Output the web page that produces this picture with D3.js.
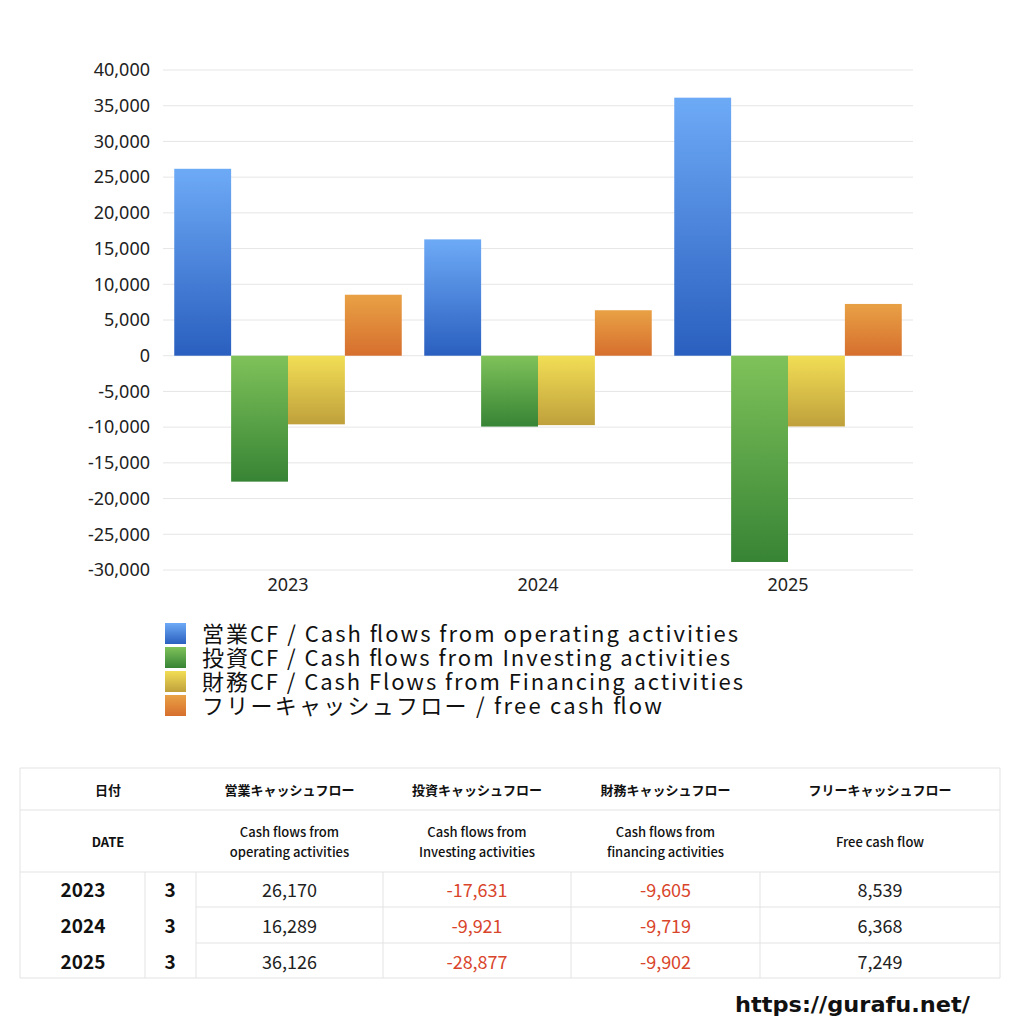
<!DOCTYPE html><html><head><meta charset="utf-8"><script src="https://cdn.jsdelivr.net/npm/d3@7"></script>
<style>body{margin:0;background:#fff;font-family:"Noto Sans CJK JP","Noto Sans",sans-serif}</style></head><body>
<svg id="c" width="1024" height="1024"></svg>
<script>
const years=["2023","2024","2025"];
const months=["3","3","3"];
const operating=[26170,16289,36126];
const investing=[-17631,-9921,-28877];
const financing=[-9605,-9719,-9902];
const free=[8539,6368,7249];
const yTicks=[40000,35000,30000,25000,20000,15000,10000,5000,0,-5000,-10000,-15000,-20000,-25000,-30000];
const legendLabels=["営業CF / Cash flows from operating activities","投資CF / Cash flows from Investing activities","財務CF / Cash Flows from Financing activities","フリーキャッシュフロー / free cash flow"];
const legendWidths=[536,528,541,460];
const headJa=["営業キャッシュフロー","投資キャッシュフロー","財務キャッシュフロー","フリーキャッシュフロー"];
const headEn=[["Cash flows from","operating activities"],["Cash flows from","Investing activities"],["Cash flows from","financing activities"],["Free cash flow"]];
const series=[operating,investing,financing,free];
const grads=[["#6daaf6","#2a5fbf"],["#7fc25a","#378435"],["#f2de55","#bfa03c"],["#e9a145","#d66f2e"]];
const fmt=v=>d3.format(",")(v).replace("−","-");
const svg=d3.select("#c");
const defs=svg.append("defs");
grads.forEach((g,i)=>{const lg=defs.append("linearGradient").attr("id","g"+i).attr("x1",0).attr("y1",0).attr("x2",0).attr("y2",1);
lg.append("stop").attr("offset",0).attr("stop-color",g[0]);lg.append("stop").attr("offset",1).attr("stop-color",g[1]);});
const L=163,R=913;
const y=d3.scaleLinear().domain([-30000,40000]).range([570,70]);
const x0=d3.scaleBand().domain(years).range([L,R]).paddingInner(0.09).paddingOuter(0.045);
const x1=d3.scaleBand().domain([0,1,2,3]).range([0,x0.bandwidth()]);
svg.append("g").selectAll("line").data(yTicks).join("line").attr("x1",L).attr("x2",R).attr("y1",d=>y(d)).attr("y2",d=>y(d)).attr("stroke","#e6e6e6");
const ya=svg.append("g").attr("transform",`translate(${L},0)`).call(d3.axisLeft(y).tickValues(yTicks).tickSize(0).tickPadding(13).tickFormat(fmt));
ya.select(".domain").remove();ya.selectAll("text").attr("font-size",18).attr("fill","#222").attr("font-family","Noto Sans, sans-serif");
const xa=svg.append("g").attr("transform","translate(0,570)").call(d3.axisBottom(x0).tickSize(0).tickPadding(8));
xa.select(".domain").remove();xa.selectAll("text").attr("font-size",18).attr("fill","#222").attr("font-family","Noto Sans, sans-serif");
series.forEach((s,i)=>{svg.append("g").selectAll("rect").data(s).join("rect").attr("x",(d,j)=>x0(years[j])+x1(i)).attr("width",x1.bandwidth())
.attr("y",d=>y(Math.max(0,d))).attr("height",d=>Math.abs(y(d)-y(0))).attr("fill",`url(#g${i})`);});
const lg=svg.append("g");
legendLabels.forEach((t,i)=>{const yy=634+i*24;lg.append("rect").attr("x",165).attr("y",yy-11).attr("width",21).attr("height",21).attr("fill",`url(#g${i})`);
lg.append("text").attr("x",202).attr("y",yy+8).attr("font-size",22).attr("fill","#111").attr("textLength",legendWidths[i]).attr("lengthAdjust","spacing").text(t);});
// table
const cols=[20,145,196,383,571,760,1000];
const t=svg.append("g").attr("font-family","Noto Sans CJK JP, sans-serif");
const line=(x1,y1,x2,y2)=>t.append("line").attr("x1",x1).attr("y1",y1).attr("x2",x2).attr("y2",y2).attr("stroke","#e3e3e3");
[768,810,872,978].forEach(v=>line(20,v,1000,v));line(196,907,1000,907);line(196,943,1000,943);
line(20,768,20,978);line(1000,768,1000,978);
[145,196,383,571,760].forEach(v=>line(v,872,v,978));
const txt=(x,yy,s,o)=>t.append("text").attr("x",x).attr("y",yy).attr("text-anchor","middle").attr("font-size",o.fs).attr("font-weight",o.fw||400).attr("fill",o.c||"#111").text(s);
txt(108,795,"日付",{fs:13,fw:700});txt(108,847,"DATE",{fs:13,fw:700});
headJa.forEach((h,i)=>{const cx=(cols[i+2]+cols[i+3])/2;txt(cx,795,h,{fs:13,fw:700});
const e=headEn[i];if(e.length==1)txt(cx,847,e[0],{fs:13,fw:500});else{txt(cx,837,e[0],{fs:13,fw:500});txt(cx,857,e[1],{fs:13,fw:500});}});
const rowsY=[890,926,962];
years.forEach((yr,j)=>{txt(83,rowsY[j]+7,yr,{fs:19,fw:700});txt(170,rowsY[j]+7,months[j],{fs:19,fw:700});
series.forEach((s,i)=>{const cx=(cols[i+2]+cols[i+3])/2;txt(cx,rowsY[j]+7,fmt(s[j]),{fs:18,c:s[j]<0?"#d9452b":"#222"});});});
svg.append("text").attr("x",735).attr("y",1012).attr("font-size",22).attr("font-weight",700).attr("font-family","DejaVu Sans, sans-serif").attr("fill","#111").attr("textLength",235).attr("lengthAdjust","spacingAndGlyphs").text("https://gurafu.net/");
</script></body></html>
